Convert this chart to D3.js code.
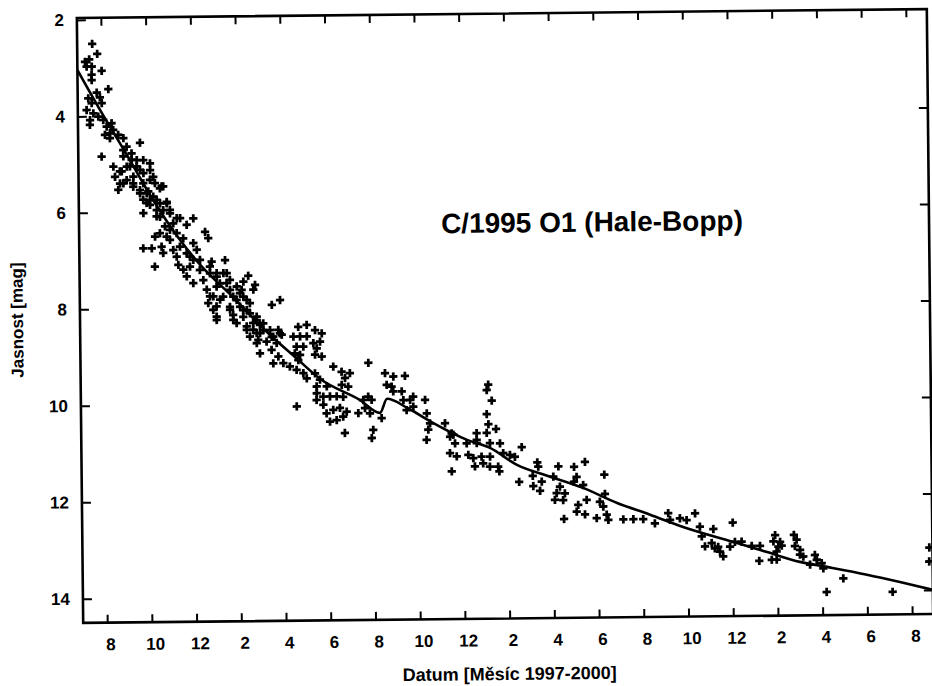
<!DOCTYPE html>
<html><head><meta charset="utf-8">
<script src="https://cdn.jsdelivr.net/npm/d3@7"></script>
<style>
body{margin:0;background:#fff;}
svg{display:block;}
text{font-family:"Liberation Sans",Arial,Helvetica,sans-serif;font-weight:bold;fill:#000;}
</style></head><body>
<svg id="chart" width="932" height="686"></svg>
<script>
// x values: months counted so that Aug 1997 = 8, Feb 1998 = 14, ... Aug 2000 = 44
const xTickValues = [8,10,12,14,16,18,20,22,24,26,28,30,32,34,36,38,40,42,44];
const xTickLabels = ["8","10","12","2","4","6","8","10","12","2","4","6","8","10","12","2","4","6","8"];
const yTickValues = [2,4,6,8,10,12,14];
const yTickLabels = ["2","4","6","8","10","12","14"];

// fitted light curve
const fitMonth = [6.93,7.92,9.10,10.11,11.43,12.32,13.78,15.28,16.61,17.63,19.41,20.30,20.62,21.51,22.66,24.18,25.20,26.40,27.87,29.34,30.86,32.33,33.80,36.02,37.54,39.01,40.22,42.00,43.47,44.94];
const fitMag   = [3.04,3.87,4.81,5.64,6.58,7.10,7.78,8.51,9.07,9.49,9.94,10.21,9.92,10.11,10.43,10.79,10.96,11.32,11.57,11.81,12.13,12.38,12.64,12.96,13.18,13.39,13.50,13.67,13.83,14.00];

// observations [month, magnitude]
const obsJulSep1997 = [[7.60,2.50],[7.82,2.71],[7.27,2.87],[7.46,2.82],[7.34,2.97],[7.57,2.97],[8.01,3.06],[7.56,3.14],[7.56,3.25],[8.30,3.44],[7.78,3.51],[7.40,3.63],[7.92,3.61],[7.55,3.73],[8.00,3.73],[7.32,3.87],[7.62,3.94],[7.47,4.08],[7.84,4.01],[7.46,4.18],[8.06,4.08],[8.21,4.22],[8.43,4.15],[8.50,4.29],[8.13,4.39],[8.35,4.36],[8.35,4.46],[8.72,4.39],[8.95,4.46],[7.97,4.84],[9.09,4.64],[9.31,4.78],[9.69,4.56],[8.94,4.84],[9.31,4.91],[8.49,5.05],[8.78,5.15],[8.56,5.26],[9.09,5.05],[9.53,5.05],[9.83,4.92],[9.83,5.19],[8.78,5.40],[9.08,5.33],[9.37,5.40],[8.86,5.15],[8.70,5.53],[8.93,5.40],[9.38,5.26],[9.68,5.12],[9.82,5.40],[9.67,5.61],[9.67,5.54],[9.23,5.05],[9.54,4.92],[8.94,4.71],[9.37,5.47]];
const obsOctDec1997 = [[10.13,5.13],[10.12,5.33],[10.34,5.40],[10.56,5.51],[10.71,5.47],[9.97,5.61],[10.26,5.68],[9.81,5.74],[10.11,5.85],[10.56,5.82],[10.86,5.79],[10.41,5.96],[11.00,5.96],[11.30,6.13],[12.04,6.14],[10.55,6.10],[10.13,4.99],[10.27,5.27],[10.64,5.47],[9.96,5.81],[10.41,5.75],[10.86,5.82],[11.00,6.03],[9.81,6.02],[10.40,6.09],[11.45,6.13],[11.74,6.27],[10.77,6.30],[10.32,6.51],[10.54,6.44],[10.99,6.37],[11.29,6.44],[10.99,6.58],[11.58,6.55],[12.03,6.65],[12.56,6.42],[12.70,6.55],[9.79,6.75],[10.17,6.75],[10.61,6.72],[10.68,6.85],[11.13,6.79],[11.28,6.93],[11.73,6.86],[12.18,6.79],[12.02,7.00],[10.30,7.13],[11.35,7.10],[11.57,7.20],[11.87,7.14],[12.31,7.21],[12.84,7.04],[11.72,7.34],[12.01,7.48],[12.46,7.42],[12.76,7.28],[10.04,5.57],[10.11,5.75],[10.70,5.96],[11.14,6.24],[10.84,6.51],[11.43,6.72],[11.87,6.93],[12.32,7.00],[12.76,7.14]];
const obsJanApr1998 = [[13.44,7.01],[13.06,7.35],[13.51,7.28],[14.47,7.34],[14.77,7.53],[14.69,7.63],[12.61,7.62],[13.05,7.56],[13.50,7.49],[13.95,7.56],[14.25,7.46],[12.90,7.76],[13.34,7.77],[13.79,7.77],[14.24,7.77],[12.67,7.90],[13.04,7.97],[13.64,8.04],[14.09,7.98],[14.53,7.91],[13.04,8.25],[13.78,8.25],[14.23,8.19],[14.67,8.32],[15.12,8.33],[14.38,8.46],[14.82,8.53],[15.42,8.47],[15.86,8.54],[15.51,7.95],[15.88,7.85],[14.82,8.74],[15.26,8.71],[15.71,8.74],[13.06,7.28],[13.20,7.49],[13.65,7.42],[14.17,7.63],[12.75,7.76],[13.20,7.83],[13.94,7.84],[14.39,7.84],[12.89,8.04],[13.04,8.18],[13.64,7.98],[13.78,8.15],[14.23,8.05],[14.53,8.12],[14.83,8.26],[13.93,8.32],[14.38,8.39],[14.67,8.46],[14.97,8.36],[14.52,8.60],[14.97,8.53],[14.89,8.67],[15.79,8.47],[15.94,8.57],[15.49,8.61],[13.36,7.28],[13.65,7.63],[14.09,7.70],[14.39,8.05],[14.83,8.19],[15.12,8.47],[15.56,8.61]];
const obsMayAug1998 = [[14.96,8.95],[15.48,8.88],[15.78,9.02],[15.55,9.16],[16.00,9.16],[16.29,9.23],[16.67,9.10],[16.59,9.30],[16.89,9.37],[17.04,9.48],[17.41,9.38],[16.68,8.41],[17.06,8.37],[17.43,8.48],[17.73,8.55],[16.46,8.61],[16.76,8.61],[17.06,8.61],[16.60,8.82],[16.90,8.82],[17.35,8.75],[17.65,8.72],[17.50,8.86],[16.52,8.96],[16.75,8.99],[17.42,8.99],[17.72,9.03],[18.23,9.24],[18.60,9.35],[18.97,9.38],[18.75,9.48],[19.80,9.17],[17.63,9.51],[17.48,9.65],[17.93,9.65],[17.48,9.79],[17.47,9.93],[17.77,9.86],[18.07,9.86],[18.37,9.86],[18.66,9.87],[18.60,9.62],[18.89,9.66],[16.58,10.06],[17.77,10.03],[17.91,10.21],[18.21,10.14],[18.51,10.10],[18.81,10.18],[18.06,10.38],[18.36,10.35],[18.65,10.28],[18.72,10.62],[19.33,10.21],[19.63,10.11],[19.78,9.87],[19.56,9.94],[19.93,9.94],[19.85,10.22],[19.99,10.56],[19.92,10.73]];
const obsSep1998Feb1999 = [[20.37,10.32],[20.54,9.39],[20.91,9.46],[21.43,9.45],[20.61,9.63],[20.83,9.67],[20.90,9.77],[21.28,9.77],[21.35,9.95],[21.65,9.95],[21.79,9.88],[22.32,9.95],[21.49,10.16],[21.79,10.09],[22.39,10.23],[22.53,10.44],[22.45,10.57],[23.20,10.44],[23.42,10.72],[23.57,10.68],[22.37,10.78],[24.61,10.65],[24.61,10.79],[25.08,9.76],[25.15,9.65],[25.30,9.98],[25.07,10.26],[25.14,10.47],[25.48,10.57],[25.06,10.65],[23.49,10.65],[23.64,10.86],[24.16,10.86],[24.61,10.86],[25.20,10.86],[25.65,10.87],[26.62,10.95],[23.41,11.06],[23.71,11.13],[24.23,11.10],[24.45,11.17],[24.82,11.14],[25.20,11.14],[25.79,11.07],[26.09,11.11],[26.31,11.15],[24.52,11.34],[24.89,11.28],[25.19,11.35],[25.56,11.35],[23.48,11.44],[25.61,11.45]];
const obsMarOct1999 = [[27.31,11.27],[27.35,11.36],[28.25,11.36],[28.95,11.37],[29.44,11.27],[27.10,11.55],[26.49,11.67],[27.50,11.67],[27.12,11.76],[27.42,11.86],[28.02,11.57],[29.06,11.58],[28.94,11.68],[29.35,11.75],[28.31,11.78],[28.16,11.91],[28.53,11.92],[28.08,12.05],[28.45,12.06],[29.50,12.06],[30.30,11.54],[30.32,11.94],[30.09,12.10],[30.24,12.20],[29.12,12.16],[29.05,12.30],[29.42,12.36],[29.94,12.44],[30.39,12.37],[30.46,12.48],[28.48,12.45],[31.13,12.47],[31.58,12.47],[32.02,12.47],[32.54,12.56],[33.14,12.35],[33.22,12.49],[33.66,12.46],[33.96,12.50],[34.34,12.36]];
const obsNov1999Aug2000 = [[34.55,12.64],[35.15,12.69],[36.02,12.56],[34.63,12.84],[34.77,13.05],[35.07,12.98],[35.21,13.09],[35.36,13.06],[35.44,13.16],[35.58,13.26],[35.89,13.06],[36.11,12.96],[36.41,12.96],[36.86,13.05],[37.23,13.05],[37.19,13.36],[37.75,13.34],[37.97,13.34],[37.91,12.83],[37.83,12.96],[38.13,12.97],[38.05,13.07],[38.20,13.05],[37.97,13.17],[38.75,12.83],[38.87,12.93],[38.79,13.06],[39.02,13.14],[39.01,13.24],[39.16,13.28],[39.46,13.45],[39.68,13.25],[39.76,13.35],[39.98,13.42],[40.05,13.53],[40.94,13.74],[40.19,14.02],[43.14,14.03],[44.80,13.12],[44.79,13.41]];

const titleText = "C/1995 O1 (Hale-Bopp)";
const xTitle = "Datum [Měsíc 1997-2000]";
const yTitle = "Jasnost [mag]";

const pLeft = 80, pRight = 930, pTop = 13.5, pBottom = 618.5;
const x = d3.scaleLinear().domain([6.927, 44.94]).range([pLeft, pRight]);
const y = d3.scaleLinear().domain([1.96, 14.5]).range([pTop, pBottom]);

const svg = d3.select("#chart");
svg.append("rect").attr("width",932).attr("height",686).attr("fill","#fff");
const g = svg.append("g").attr("transform","rotate(-0.6,505,316)");

// axes
const axB = g.append("g").attr("transform",`translate(0,${pBottom})`)
  .call(d3.axisBottom(x).tickValues(xTickValues).tickFormat((d,i)=>xTickLabels[i]).tickSize(-8).tickPadding(15.5));
const axT = g.append("g").attr("transform",`translate(0,${pTop})`)
  .call(d3.axisTop(x).tickValues(xTickValues).tickFormat("").tickSize(-8));
const axL = g.append("g").attr("transform",`translate(${pLeft},0)`)
  .call(d3.axisLeft(y).tickValues(yTickValues).tickFormat((d,i)=>yTickLabels[i]).tickSize(-9).tickPadding(13));
const axR = g.append("g").attr("transform",`translate(${pRight},0)`)
  .call(d3.axisRight(y).tickValues(yTickValues.slice(1)).tickFormat("").tickSize(-9));
[axB,axT,axL,axR].forEach(a=>{
  a.select(".domain").remove();
  a.selectAll(".tick line").attr("stroke","#000").attr("stroke-width",2);
  a.selectAll("text").attr("font-size",17).attr("font-family","'Liberation Sans',Arial,sans-serif").attr("font-weight","bold").attr("fill","#000");
});
axB.selectAll("text").attr("dx",3);

// frame
g.append("rect").attr("x",pLeft).attr("y",pTop).attr("width",pRight-pLeft).attr("height",pBottom-pTop)
  .attr("fill","none").attr("stroke","#000").attr("stroke-width",2.6);

// observations
const allObs = [].concat(obsJulSep1997,obsOctDec1997,obsJanApr1998,obsMayAug1998,obsSep1998Feb1999,obsMarOct1999,obsNov1999Aug2000);
const sym = d3.symbol().type(d3.symbolCross).size(38);
g.append("g").selectAll("path").data(allObs).join("path")
  .attr("d", sym)
  .attr("transform", d=>`translate(${x(d[0])},${y(d[1])})`)
  .attr("fill","#000");

// fitted curve
const fitData = fitMonth.map((m,i)=>[m,fitMag[i]]);
g.append("path").datum(fitData)
  .attr("d", d3.line().x(d=>x(d[0])).y(d=>y(d[1])).curve(d3.curveMonotoneX))
  .attr("fill","none").attr("stroke","#000").attr("stroke-width",2.6);

// texts
g.append("text").attr("x",442).attr("y",232.5).attr("font-size",28).text(titleText);
g.append("text").attr("x",506).attr("y",680).attr("text-anchor","middle").attr("font-size",18).text(xTitle);
g.append("text").attr("transform","translate(23,315) rotate(-90)").attr("text-anchor","middle").attr("font-size",17).text(yTitle);
</script>
</body></html>
